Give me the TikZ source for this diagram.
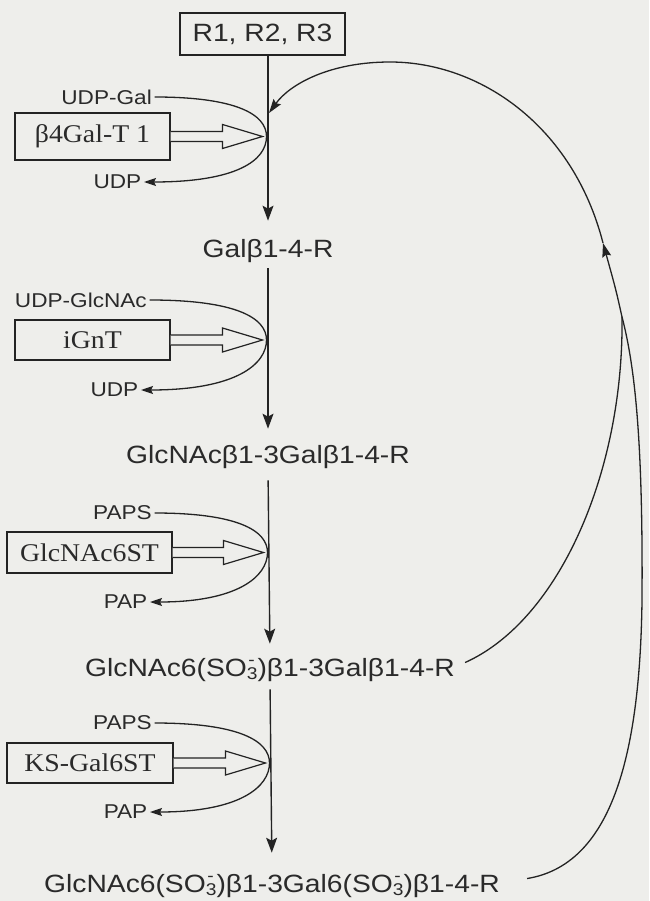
\documentclass[tikz,border=0pt]{standalone}
\usepackage{fontspec}
\usetikzlibrary{arrows.meta,calc}
\newfontfamily\sansf{Liberation Sans}[FakeStretch=1.13]
\newfontfamily\serf{Liberation Serif}[FakeStretch=1.09]
\definecolor{bg}{RGB}{238,238,235}
\definecolor{ink}{RGB}{35,35,35}
\definecolor{txt}{RGB}{42,42,42}
\newcommand\sothree{SO\makebox[0pt][l]{\raisebox{11pt}{\fontsize{17}{17}\selectfont\kern1.5pt -}}\raisebox{-3pt}{\fontsize{17}{17}\selectfont 3}}
\begin{document}
\begin{tikzpicture}[x=1pt,y=-1pt,
  every node/.style={text=txt},
  mtext/.style={font=\sansf\fontsize{25}{30}\selectfont, anchor=base, inner sep=0pt},
  small/.style={font=\sansf\fontsize{20}{24}\selectfont, inner sep=2.5pt, anchor=east},
  enzyme/.style={draw=ink, line width=1.3pt, font=\serf\fontsize{25.5}{30}\selectfont, minimum width=155pt, minimum height=42pt, inner sep=0pt},
  rbox/.style={draw=ink, line width=1.3pt, font=\sansf\fontsize{25}{30}\selectfont, minimum width=165pt, minimum height=42pt, inner sep=0pt},
  flow/.style={draw=ink, line width=1.4pt, -{Stealth[length=15pt,width=11pt,inset=3pt]}},
  thin/.style={draw=ink, line width=1.3pt},
  tip/.style={-{Stealth[length=12pt,width=8pt,inset=2pt]}},
  rtip/.style={-{Stealth[length=14pt,width=9pt,inset=2pt]}},
  hollow/.style={draw=ink, line width=1.2pt, fill=bg, line join=miter}
]
\fill[bg] (0,0) rectangle (649,901);
\useasboundingbox (0,0) rectangle (649,901);

% main chain
\node[rbox] (R) at (262.5,34) {R1, R2, R3};
\node[mtext] (t1) at (268,258) {Galβ1-4-R};
\node[mtext] (t2) at (268,463) {GlcNAcβ1-3Galβ1-4-R};
\node[mtext] (t3) at (270,676) {GlcNAc6(\sothree)β1-3Galβ1-4-R};
\node[mtext] (t4) at (272,892) {GlcNAc6(\sothree)β1-3Gal6(\sothree)β1-4-R};

% enzymes
\node[enzyme, minimum height=47pt] (e1) at (92.5,136.5) {β4Gal-T 1};
\node[enzyme, minimum height=40pt] (e2) at (92.5,340) {iGnT};
\node[enzyme, minimum width=165pt, minimum height=41pt] (e3) at (89.5,552.5) {GlcNAc6ST};
\node[enzyme, minimum width=166pt, minimum height=40pt] (e4) at (90,763) {KS-Gal6ST};

% reaction vertices
\coordinate (v1) at (266.5,136.5);
\coordinate (v2) at (266.5,340);
\coordinate (v3) at (267.5,552.5);
\coordinate (v4) at (269.5,763);

% donors and products
\node[small] (s1) at (154.5,97) {UDP-Gal};
\node[small] (p1) at (144,182) {UDP};
\node[small] (s2) at (149.5,300) {UDP-GlcNAc};
\node[small] (p2) at (141,390) {UDP};
\node[small] (s3) at (154.5,513) {PAPS};
\node[small] (p3) at (150,602) {PAP};
\node[small] (s4) at (154.5,723) {PAPS};
\node[small] (p4) at (150,812) {PAP};

% main flow
\draw[flow, shorten >=19pt] (R.south -| t1.north) -- (t1.north);
\draw[flow, shorten <=5pt, shorten >=16pt] (t1.south) -- (t2.north);
\draw[flow, shorten <=12pt, shorten >=14pt] (t2.south) -- (t3.north);
\draw[flow, shorten <=8pt, shorten >=21pt] (t3.south) -- (t4.north);

% enzyme hollow arrows
\foreach \i in {1,2,3,4}{
  \draw[hollow] ($(e\i.east)+(0,-5)$) -- ($(v\i)+(-44,-5)$) -- ($(v\i)+(-44,-12)$)
    -- ($(v\i)+(-4,0)$) -- ($(v\i)+(-44,12)$) -- ($(v\i)+(-44,5)$) -- ($(e\i.east)+(0,5)$);
}

% donor/product loops
\foreach \i in {1,2,3,4}{
  \draw[thin, tip] (s\i.east) .. controls ($(s\i.east -| v\i)+(-30,0)$) and ($(v\i)+(0,-22)$) .. (v\i)
    .. controls ($(v\i)+(0,24)$) and ($(p\i.east -| v\i)+(-30,0)$) .. (p\i.east);
}

% recycling arcs
\coordinate (m) at (622,317);
\coordinate (a) at (603,243);
\coordinate (j) at (269,113);
\draw[thin, rtip] (m) .. controls (616,290) .. (a);
\draw[thin, rtip] (a) .. controls (573,126) and (480,62) .. (390,62) .. controls (330,62) and (290,84) .. (j);
\draw[thin] ($(t3.east)+(10,-7)$) .. controls (560,620) and (624,470) .. (m);
\draw[thin] ($(t4.east)+(27,-7)$) .. controls (610,865) and (640,760) .. (642,600) .. controls (643,450) and (636,370) .. (m);
\end{tikzpicture}
\end{document}
